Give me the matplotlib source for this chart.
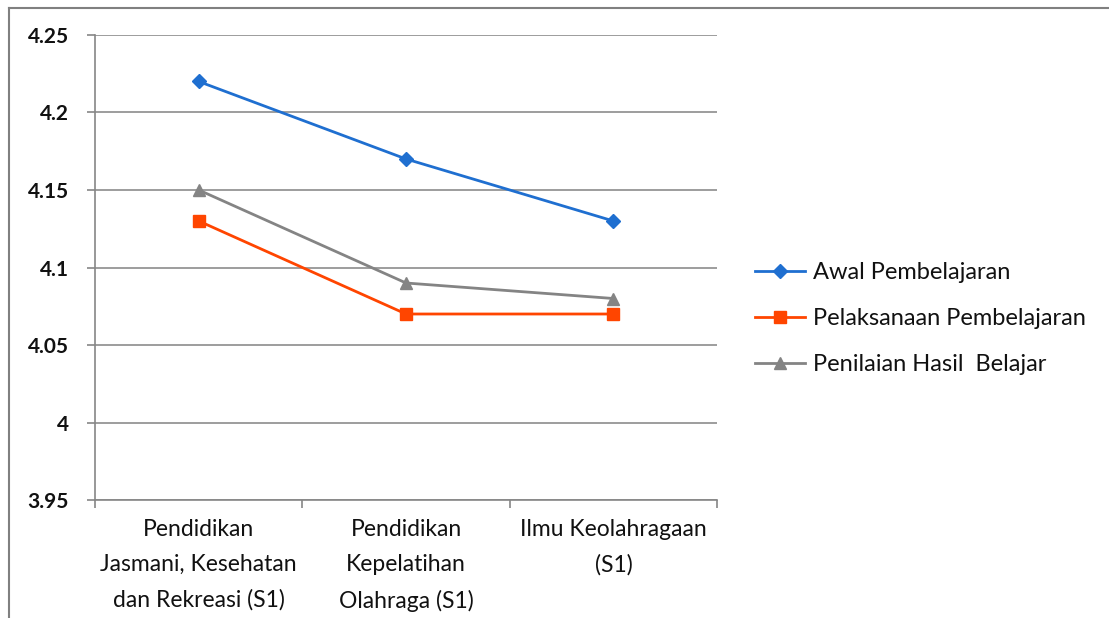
import matplotlib.pyplot as plt
from matplotlib.lines import Line2D
import numpy as np

categories = ['Pendidikan\nJasmani, Kesehatan\ndan Rekreasi (S1)',
              'Pendidikan\nKepelatihan\nOlahraga (S1)',
              'Ilmu Keolahragaan\n(S1)']
awal = [4.22, 4.17, 4.13]
pelaksanaan = [4.13, 4.07, 4.07]
penilaian = [4.15, 4.09, 4.08]
yticks = [3.95, 4.0, 4.05, 4.1, 4.15, 4.2, 4.25]
ytick_labels = ['3.95', '4', '4.05', '4.1', '4.15', '4.2', '4.25']

plt.rcParams['font.family'] = ['Lato', 'DejaVu Sans']

fig = plt.figure(figsize=(11.09, 6.18), dpi=100)
ax = fig.add_axes([0.0857, 0.1909, 0.5609, 0.7525])

x = np.arange(len(categories))
ax.plot(x, awal, color='#1F6FD0', lw=2, marker='D', ms=7.5, label='Awal Pembelajaran')
ax.plot(x, pelaksanaan, color='#FF4500', lw=2, marker='s', ms=9, label='Pelaksanaan Pembelajaran')
ax.plot(x, penilaian, color='#848484', lw=2, marker='^', ms=9, label='Penilaian Hasil  Belajar')

ax.set_xlim(-0.5, 2.5)
ax.set_ylim(3.95, 4.25)
ax.set_yticks(yticks)
ax.set_yticklabels(ytick_labels, fontsize=15, fontweight='bold', color='#111111')
ax.set_xticks(x)
ax.set_xticklabels(categories, fontsize=16.5, color='#111111', linespacing=1.8)
ax.tick_params(axis='x', length=0, pad=14)
ax.set_xticks([-0.5, 0.5, 1.5, 2.5], minor=True)
ax.tick_params(axis='x', which='minor', length=6, color='#868686', width=1.2)
ax.tick_params(axis='y', length=6, color='#868686', width=1.2, pad=13)

ax.grid(axis='y', color='#8c8c8c', lw=1.2)
ax.set_axisbelow(True)
for s in ['top', 'right']:
    ax.spines[s].set_visible(False)
for s in ['left', 'bottom']:
    ax.spines[s].set_color('#868686')
    ax.spines[s].set_linewidth(1.2)

leg = ax.legend(loc='center left', bbox_to_anchor=(1.027, 0.39), frameon=False,
                fontsize=17, handlelength=2.1, labelspacing=1.05, handletextpad=0.35)
for t in leg.get_texts():
    t.set_color('#111111')

# outer frame (left and top edges)
fig.add_artist(Line2D([0.0085, 0.0085], [0, 0.987], color='#808080', lw=1.5))
fig.add_artist(Line2D([0.0085, 1], [0.987, 0.987], color='#808080', lw=1.5))

plt.savefig('out.png', dpi=100)
